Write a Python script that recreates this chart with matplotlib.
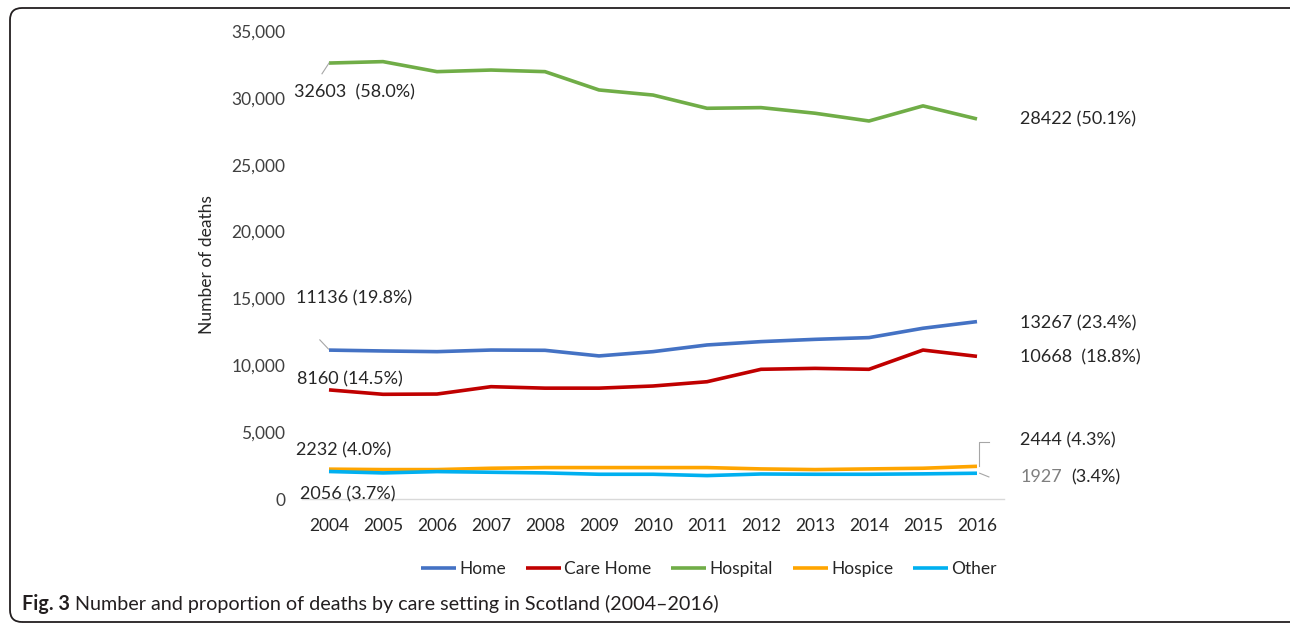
import matplotlib
matplotlib.use("Agg")
import matplotlib.pyplot as plt
from matplotlib.patches import FancyBboxPatch
from matplotlib.transforms import IdentityTransform

years = [2004, 2005, 2006, 2007, 2008, 2009, 2010, 2011, 2012, 2013, 2014, 2015, 2016]
home = [11136, 11070, 11020, 11140, 11120, 10700, 11020, 11520, 11770, 11940, 12070, 12770, 13267]
care_home = [8160, 7830, 7850, 8400, 8290, 8290, 8450, 8770, 9700, 9770, 9700, 11140, 10668]
hospital = [32603, 32710, 31960, 32080, 31960, 30590, 30210, 29220, 29270, 28850, 28270, 29400, 28422]
hospice = [2232, 2200, 2200, 2300, 2350, 2350, 2350, 2350, 2250, 2200, 2250, 2300, 2444]
other = [2056, 1950, 2050, 2000, 1950, 1850, 1850, 1750, 1870, 1850, 1850, 1880, 1927]
series_names = ["Home", "Care Home", "Hospital", "Hospice", "Other"]
y_ticks = [0, 5000, 10000, 15000, 20000, 25000, 30000, 35000]

colors = ["#4472C4", "#C00000", "#70AD47", "#FFA500", "#00B0F0"]
FONT = "Lato"
plt.rcParams["font.family"] = [FONT, "DejaVu Sans"]

fig = plt.figure(figsize=(12.9, 6.24), dpi=100)
ax = fig.add_axes([302 / 1290, 1 - 499 / 624, (1004 - 302) / 1290, (499 - 31) / 624])

x = list(range(len(years)))
all_series = [home, care_home, hospital, hospice, other]
for vals, name, c in zip(all_series, series_names, colors):
    ax.plot(x, vals, color=c, lw=2.6, label=name, solid_capstyle="butt")

ax.set_xlim(-0.5, len(years) - 0.5)
ax.set_ylim(0, 35000)
ax.set_yticks(y_ticks)
ax.set_yticklabels(["0" if v == 0 else f"{v:,}" for v in y_ticks], fontsize=12.5, color="#404040")
ax.set_xticks(x)
ax.set_xticklabels([str(y) for y in years], fontsize=12.5, color="#262626")
for s in ["top", "right", "left"]:
    ax.spines[s].set_visible(False)
ax.spines["bottom"].set_color("#d9d9d9")
ax.spines["bottom"].set_linewidth(1)
ax.tick_params(axis="both", length=0)
ax.tick_params(axis="y", pad=12)
ax.tick_params(axis="x", pad=14)
ax.set_ylabel("Number of deaths", fontsize=12.5, color="#262626", labelpad=12)

fs = 13
tc = "#262626"
gray = "#a6a6a6"


def label(text, xd, yd, color=tc):
    ax.text(xd, yd, text, fontsize=fs, color=color, va="center", ha="left", clip_on=False)


def leader(xs, ys):
    ax.plot(xs, ys, color=gray, lw=0.8, clip_on=False)


# Left annotations
label(f"{hospital[0]}  (58.0%)", -0.65, 30400)
leader([-0.13, 0.0], [31800, hospital[0]])
label(f"{home[0]} (19.8%)", -0.62, 15000)
leader([-0.17, -0.01], [11900, home[0] + 80])
label(f"{care_home[0]} (14.5%)", -0.6, 8950)
label(f"{hospice[0]} (4.0%)", -0.62, 3600)
label(f"{other[0]} (3.7%)", -0.53, 380)

# Right annotations
n = len(years) - 1
label(f"{hospital[n]} (50.1%)", n + 0.8, 28400)
label(f"{home[n]} (23.4%)", n + 0.8, 13150)
label(f"{care_home[n]}  (18.8%)", n + 0.8, 10600)
label(f"{hospice[n]} (4.3%)", n + 0.8, 4350)
leader([n + 0.04, n + 0.04, n + 0.22], [hospice[n] + 60, 4300, 4300])
leader([n + 0.05, n + 0.22], [other[n], 1650])
label(f"{other[n]}", n + 0.8, 1650, color="#7f7f7f")
label("(3.4%)", n + 1.75, 1650)

leg = fig.legend(loc="center", bbox_to_anchor=(709 / 1290, 1 - 569 / 624), ncol=5, frameon=False,
                 fontsize=12.5, handlelength=2.0, handletextpad=0.2, columnspacing=1.15)
for t in leg.get_texts():
    t.set_color(tc)

# Caption
cap1 = fig.text(22 / 1290, 1 - 604 / 624, "Fig. 3", fontsize=14.2, fontweight="bold", color="#231f20",
                va="center", ha="left")
fig.canvas.draw()
r = fig.canvas.get_renderer()
bb = cap1.get_window_extent(r)
fig.text((bb.x1 + 5) / 1290, 1 - 604 / 624,
         "Number and proportion of deaths by care setting in Scotland (2004\u20132016)",
         fontsize=14.2, color="#231f20", va="center", ha="left")

# Border (pixel coordinates, origin bottom-left)
box = FancyBboxPatch((10, 2), 1300, 614, boxstyle="round,pad=0,rounding_size=12",
                     transform=IdentityTransform(), fill=False, edgecolor="#231f20", lw=1.3)
fig.patches.append(box)

fig.savefig("out.png", dpi=100)
